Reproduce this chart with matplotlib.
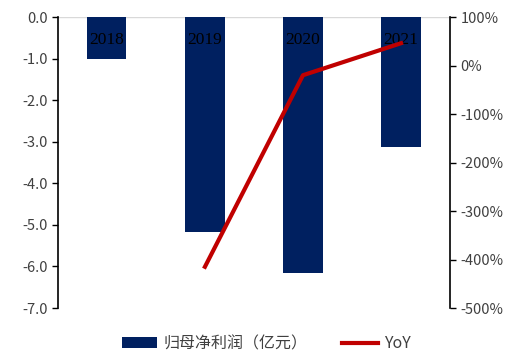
import matplotlib.pyplot as plt
from matplotlib.ticker import FuncFormatter

plt.rcParams['font.family'] = ['Noto Sans CJK SC', 'DejaVu Sans']

years = ['2018', '2019', '2020', '2021']
profit = [-1.01, -5.17, -6.15, -3.12]  # 亿元
yoy_years = ['2019', '2020', '2021']
yoy = [-415, -20, 46]  # %

fig = plt.figure(figsize=(5.12, 3.51), dpi=100)
ax = fig.add_axes([0.113, 0.1225, 0.766, 0.829])
ax2 = ax.twinx()

x = list(range(len(years)))
ax.bar(x, profit, width=0.4, color='#002060', label='归母净利润（亿元）', zorder=2)
ax.axhline(0, color='#d9d9d9', lw=1, zorder=1)
for i, y in enumerate(years):
    ax.text(i, -0.55, y, ha='center', va='center', fontsize=12.5,
            family='Liberation Serif', color='black', zorder=5)

xi = [years.index(y) for y in yoy_years]
ax2.plot(xi, yoy, color='#c00000', lw=3, label='YoY', zorder=4)

ax.set_xlim(-0.5, 3.5)
ax.set_ylim(-7, 0)
ax.set_yticks([0, -1, -2, -3, -4, -5, -6, -7])
ax.yaxis.set_major_formatter(FuncFormatter(lambda v, p: f'{v:.1f}'))
ax2.set_ylim(-500, 100)
ax2.set_yticks(range(-500, 101, 100))
ax2.yaxis.set_major_formatter(FuncFormatter(lambda v, p: f'{v:.0f}%'))
ax.set_xticks([])

for a in (ax, ax2):
    a.spines['top'].set_visible(False)
    a.spines['bottom'].set_visible(False)
    a.tick_params(axis='y', direction='out', length=4, width=1, labelsize=10.5, colors='#404040')
    a.tick_params(axis='y', color='black')
ax.spines['right'].set_visible(False)
ax2.spines['left'].set_visible(False)
ax.spines['left'].set_linewidth(1.2)
ax2.spines['right'].set_linewidth(1.2)
ax2.set_zorder(ax.get_zorder() + 1)
ax2.patch.set_visible(False)

h1, l1 = ax.get_legend_handles_labels()
h2, l2 = ax2.get_legend_handles_labels()
fig.legend(h1 + h2, l1 + l2, loc='lower center', bbox_to_anchor=(0.52, -0.045), ncol=2,
           frameon=False, fontsize=11.5, handlelength=2.2, columnspacing=2.2,
           handleheight=0.7, handletextpad=0.4, labelcolor='#404040')

fig.savefig('out.png', dpi=100)
